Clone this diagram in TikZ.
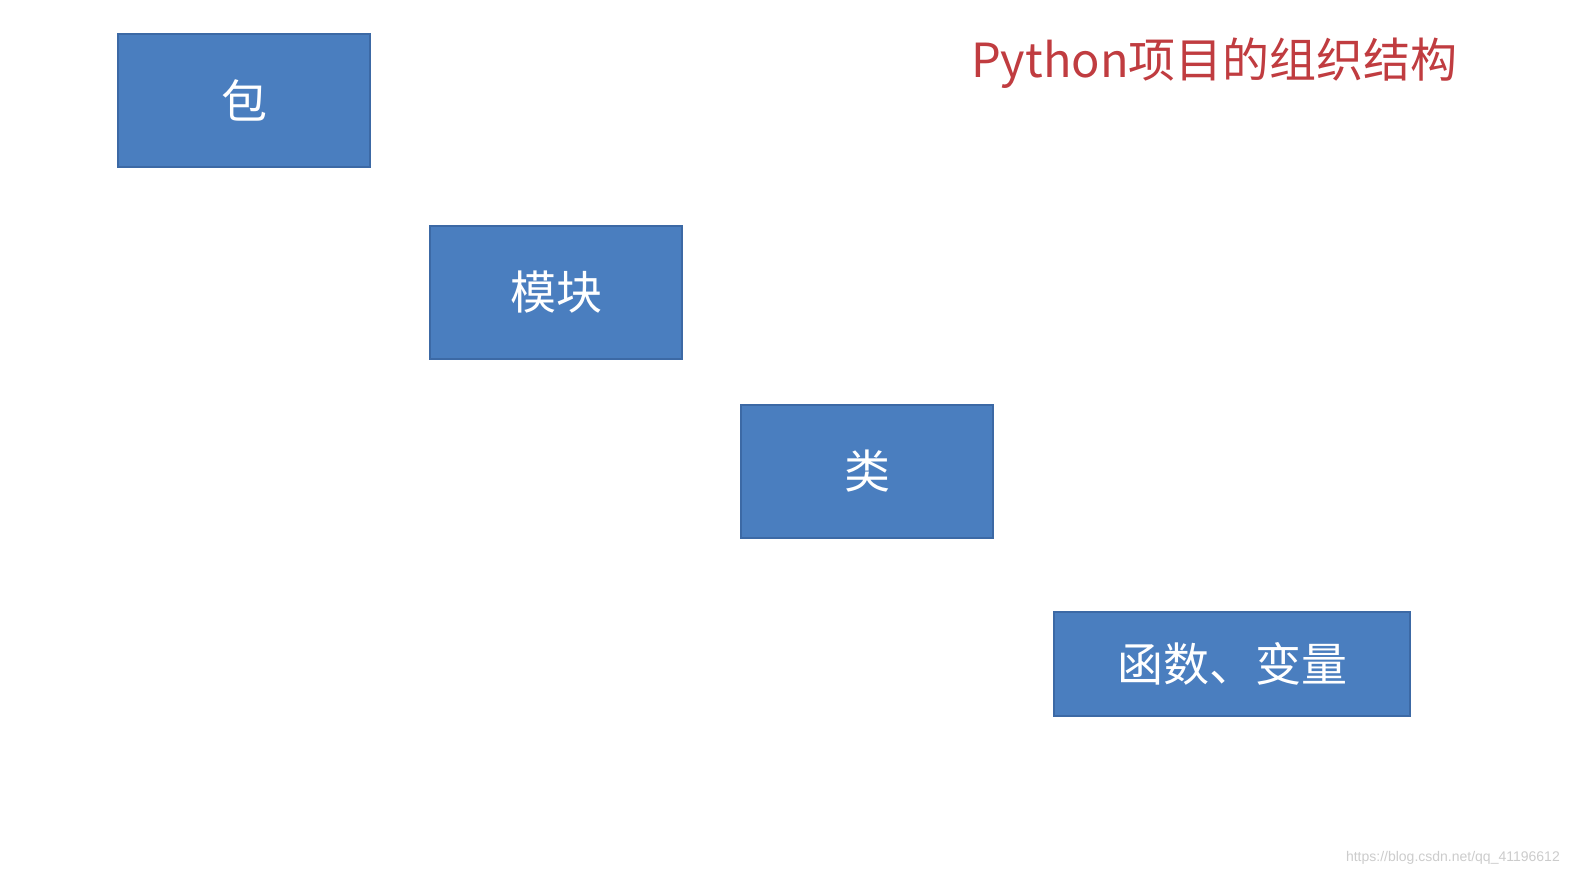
\documentclass[tikz,border=0pt]{standalone}
\usepackage{fontspec}
\newfontfamily\cjk{Noto Sans CJK SC}
\definecolor{boxblue}{RGB}{74,126,191}
\definecolor{boxedge}{RGB}{60,105,165}
\definecolor{titlered}{RGB}{192,60,64}
\begin{document}
\begin{tikzpicture}[x=1pt,y=-1pt,
  blk/.style={draw=boxedge,line width=1.5pt,fill=boxblue,text=white,font=\cjk\fontsize{46}{50}\selectfont,inner sep=0pt}]
\useasboundingbox (0,0) rectangle (1591,890);
\fill[white] (0,0) rectangle (1591,890);
\node[blk,minimum width=252pt,minimum height=133pt] (bao) at (244,100.5) {包};
\node[blk,minimum width=252pt,minimum height=133pt] (mok) at (556,292.5) {模块};
\node[blk,minimum width=252pt,minimum height=133pt] (lei) at (867,471.5) {类};
\node[blk,minimum width=356pt,minimum height=104pt] (fun) at (1232,664) {函数、变量};
\node[anchor=east,text=titlered,font=\cjk\fontsize{47}{52}\selectfont,inner sep=0pt] (title) at (1458,63) {Python项目的组织结构};
\node[anchor=east,text=black!20,font=\fontspec{Liberation Sans}\fontsize{14}{16}\selectfont,inner sep=0pt] (wm) at (1560,858) {https://blog.csdn.net/qq\_41196612};
\end{tikzpicture}
\end{document}
